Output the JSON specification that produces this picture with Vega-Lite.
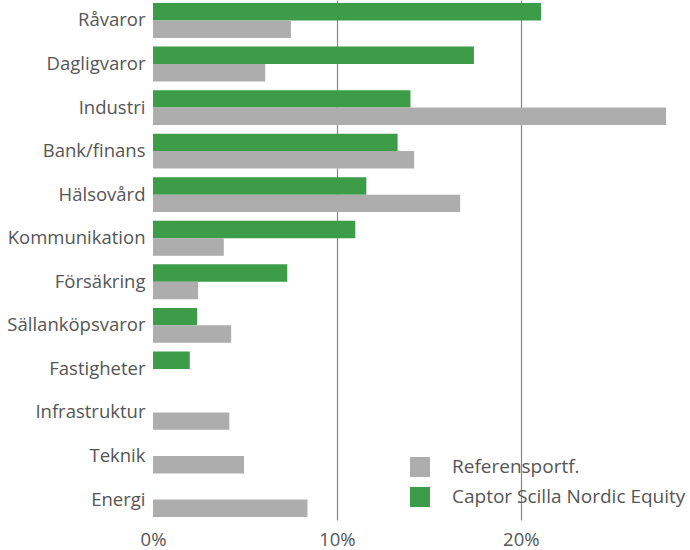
{
  "$schema": "https://vega.github.io/schema/vega-lite/v6.json",
  "width": 537,
  "height": 520,
  "autosize": {"type": "none"},
  "padding": {"left": 153, "top": 0, "right": 0, "bottom": 30},
  "background": "white",
  "config": {"view": {"stroke": null}, "font": "Open Sans"},
  "data": {
    "values": [
      {"sector": "Råvaror", "series": "Captor Scilla Nordic Equity", "value": 21.1},
      {"sector": "Råvaror", "series": "Referensportf.", "value": 7.5},
      {"sector": "Dagligvaror", "series": "Captor Scilla Nordic Equity", "value": 17.45},
      {"sector": "Dagligvaror", "series": "Referensportf.", "value": 6.1},
      {"sector": "Industri", "series": "Captor Scilla Nordic Equity", "value": 14.0},
      {"sector": "Industri", "series": "Referensportf.", "value": 27.9},
      {"sector": "Bank/finans", "series": "Captor Scilla Nordic Equity", "value": 13.3},
      {"sector": "Bank/finans", "series": "Referensportf.", "value": 14.2},
      {"sector": "Hälsovård", "series": "Captor Scilla Nordic Equity", "value": 11.6},
      {"sector": "Hälsovård", "series": "Referensportf.", "value": 16.7},
      {"sector": "Kommunikation", "series": "Captor Scilla Nordic Equity", "value": 11.0},
      {"sector": "Kommunikation", "series": "Referensportf.", "value": 3.85},
      {"sector": "Försäkring", "series": "Captor Scilla Nordic Equity", "value": 7.3},
      {"sector": "Försäkring", "series": "Referensportf.", "value": 2.45},
      {"sector": "Sällanköpsvaror", "series": "Captor Scilla Nordic Equity", "value": 2.4},
      {"sector": "Sällanköpsvaror", "series": "Referensportf.", "value": 4.25},
      {"sector": "Fastigheter", "series": "Captor Scilla Nordic Equity", "value": 2.0},
      {"sector": "Fastigheter", "series": "Referensportf.", "value": 0},
      {"sector": "Infrastruktur", "series": "Captor Scilla Nordic Equity", "value": 0},
      {"sector": "Infrastruktur", "series": "Referensportf.", "value": 4.15},
      {"sector": "Teknik", "series": "Captor Scilla Nordic Equity", "value": 0},
      {"sector": "Teknik", "series": "Referensportf.", "value": 4.95},
      {"sector": "Energi", "series": "Captor Scilla Nordic Equity", "value": 0},
      {"sector": "Energi", "series": "Referensportf.", "value": 8.4}
    ]
  },
  "mark": {"type": "bar"},
  "encoding": {
    "y": {
      "field": "sector",
      "type": "nominal",
      "sort": null,
      "scale": {"paddingInner": 0.2, "paddingOuter": 0.07},
      "axis": {
        "title": null,
        "domain": false,
        "ticks": false,
        "labelPadding": 8,
        "labelFontSize": 18.5,
        "labelColor": "#555555",
        "labelFont": "Open Sans",
        "labelLimit": 0
      }
    },
    "yOffset": {
      "field": "series",
      "type": "nominal",
      "sort": ["Captor Scilla Nordic Equity", "Referensportf."]
    },
    "x": {
      "field": "value",
      "type": "quantitative",
      "scale": {"domain": [0, 29.2], "nice": false},
      "axis": {
        "title": null,
        "values": [0, 10, 20],
        "labelExpr": "datum.value + '%'",
        "domain": false,
        "ticks": false,
        "labelFlush": false,
        "labelPadding": 10,
        "labelFontSize": 18.5,
        "labelColor": "#555555",
        "labelFont": "Open Sans",
        "grid": true,
        "gridColor": {"condition": {"test": "datum.value === 0", "value": "transparent"}, "value": "#888888"},
        "gridWidth": 1.2
      }
    },
    "color": {
      "field": "series",
      "type": "nominal",
      "scale": {
        "domain": ["Referensportf.", "Captor Scilla Nordic Equity"],
        "range": ["#adadad", "#3d9c48"]
      },
      "legend": {
        "title": null,
        "orient": "none",
        "legendX": 257,
        "legendY": 457,
        "symbolType": "square",
        "symbolSize": 400,
        "symbolStrokeWidth": 0,
        "labelFontSize": 19,
        "labelColor": "#555555",
        "labelFont": "Open Sans",
        "labelLimit": 0,
        "labelOffset": 22,
        "rowPadding": 10
      }
    }
  }
}
